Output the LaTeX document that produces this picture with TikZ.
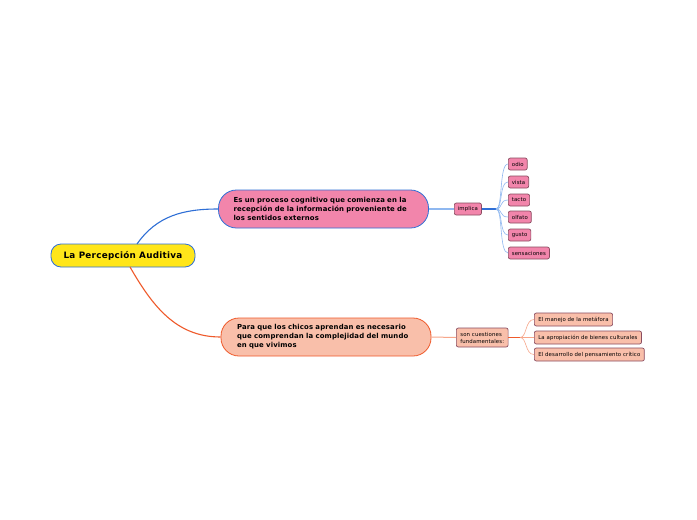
\documentclass[tikz,border=0pt]{standalone}
\usepackage{fontspec}
\setmainfont{DejaVu Sans}
\begin{document}
\begin{tikzpicture}[x=1pt,y=-1pt,
  central/.style={draw=cblue,line width=0.8pt,fill=cyellow,rounded corners=10pt,minimum width=144pt,minimum height=23pt,font=\fontsize{8.8}{10}\selectfont\bfseries\addfontfeatures{LetterSpace=3},inner sep=0pt},
  mainpink/.style={draw=cblue,line width=0.8pt,fill=cpink,rounded corners=18pt,minimum width=209pt,minimum height=38pt,inner xsep=15pt,inner ysep=0pt,text width=180pt,align=left,font=\fontsize{6.9}{9}\selectfont\bfseries\addfontfeatures{LetterSpace=2}},
  mainsalmon/.style={draw=corange,line width=0.8pt,fill=csalmon,rounded corners=18pt,minimum width=210pt,minimum height=38pt,inner xsep=16pt,inner ysep=0pt,text width=178pt,align=left,font=\fontsize{6.9}{9}\selectfont\bfseries\addfontfeatures{LetterSpace=2}},
  leafpink/.style={draw=cdark,line width=0.7pt,fill=cpink,rounded corners=2pt,minimum height=12pt,inner xsep=3.5pt,inner ysep=0pt,font=\fontsize{5.4}{6.5}\selectfont\addfontfeatures{LetterSpace=2},anchor=west},
  leafsalmon/.style={draw=cdark,line width=0.7pt,fill=csalmon,rounded corners=2pt,minimum height=13pt,inner xsep=4pt,inner ysep=0pt,font=\fontsize{5.4}{7}\selectfont\addfontfeatures{LetterSpace=2},anchor=west},
  bline/.style={draw=clblue,line width=0.6pt},
  oline/.style={draw=clorange,line width=0.6pt}
]
\definecolor{cblue}{HTML}{2F6FD6}
\definecolor{cyellow}{HTML}{FFE61A}
\definecolor{cpink}{HTML}{F285AB}
\definecolor{csalmon}{HTML}{F9BFAA}
\definecolor{corange}{HTML}{EF5A2B}
\definecolor{cdark}{HTML}{8A4C60}
\definecolor{clblue}{HTML}{8FB8F0}
\definecolor{clorange}{HTML}{F7A68A}
\useasboundingbox[fill=white] (0,0) rectangle (697,520);

\node[central] (c) at (123,255.5) {La Percepción Auditiva};
\node[mainpink] (p1) at (323.5,209) {Es un proceso cognitivo que comienza en la\\recepción de la información proveniente de\\los sentidos externos};
\node[mainsalmon] (p2) at (326,337) {Para que los chicos aprendan es necesario\\que comprendan la complejidad del mundo\\en que vivimos};

\coordinate (c1) at (137,244);
\coordinate (c2) at (130,267);
\draw[cblue,line width=1.1pt] (c1) to[out=55,in=180] (p1.west);
\draw[corange,line width=1.1pt] (c2) to[out=-60,in=180] (p2.west);

\node[leafpink] (imp) at (454,209) {implica};
\draw[clblue,line width=2pt] (p1.east) -- (imp.west);

\node[leafpink] (l1) at (508,164) {odio};
\node[leafpink] (l2) at (508,182) {vista};
\node[leafpink] (l3) at (508,200) {tacto};
\node[leafpink] (l4) at (508,217) {olfato};
\node[leafpink] (l5) at (508,235) {gusto};
\node[leafpink] (l6) at (508,253) {sensaciones};

\coordinate (bp) at (496,209);
\draw[cblue,line width=1.4pt] (imp.east) -- (bp);
\foreach \n in {l1,l2,l3,l4,l5,l6}{
  \draw[bline] (bp) .. controls +(7,0) and +(-9,0) .. (\n.west);
}

\node[leafsalmon,align=left,minimum height=19pt] (son) at (456,337.5) {son cuestiones\\fundamentales:};
\draw[clorange,line width=1pt] (p2.east) -- (son.west);

\node[leafsalmon] (s1) at (534,319.5) {El manejo de la metáfora};
\node[leafsalmon] (s2) at (534,337.5) {La apropiación de bienes culturales};
\node[leafsalmon] (s3) at (534,354.5) {El desarrollo del pensamiento crítico};

\coordinate (bq) at (520,337.5);
\draw[corange,line width=1.2pt] (son.east) -- (bq);
\foreach \n in {s1,s2,s3}{
  \draw[oline] (bq) .. controls +(7,0) and +(-9,0) .. (\n.west);
}
\end{tikzpicture}
\end{document}
